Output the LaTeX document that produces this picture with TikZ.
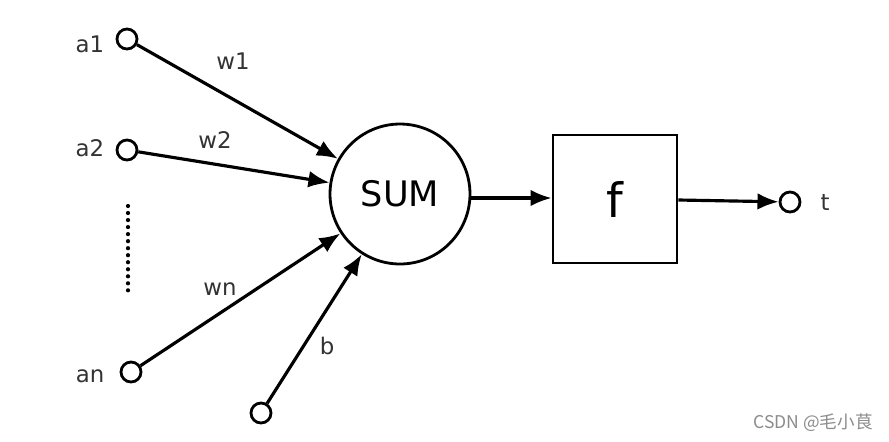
\documentclass[tikz,border=0pt]{standalone}
\usepackage{fontspec}
\setmainfont{DejaVu Sans}
\newfontfamily\cjk{Noto Sans CJK SC}
\usetikzlibrary{arrows.meta}
\begin{document}
\begin{tikzpicture}[x=0.02cm,y=-0.02cm,
  io/.style={circle,draw,line width=1.6pt,minimum size=0.4cm,inner sep=0pt},
  lbl/.style={font=\fontsize{13}{15}\selectfont,text=black!80,inner sep=0pt},
  conn/.style={line width=1.8pt,-{Latex[length=12pt,width=9.5pt]}}]
\useasboundingbox (0,0) rectangle (889,441);
\fill[white] (0,0) rectangle (889,441);
\node[io] (a1) at (127,39) {};
\node[io] (a2) at (127,150) {};
\node[io] (an) at (131,372) {};
\node[io] (b) at (261,413) {};
\node[io] (t) at (790,202) {};
\node[circle,draw,line width=1.6pt,minimum size=2.8cm,inner sep=0pt,font=\fontsize{20}{24}\selectfont] (sum) at (400,194) {SUM};
\node[draw,line width=1.6pt,minimum width=2.48cm,minimum height=2.56cm,inner sep=0pt,font=\fontsize{27}{30}\selectfont] (f) at (615,199) {f};
\node[lbl] (la1) at (90,44) {a1};
\node[lbl] (la2) at (90,148) {a2};
\node[lbl] (lan) at (90,376) {an};
\node[lbl] (lw1) at (233,61) {w1};
\node[lbl] (lw2) at (215,140) {w2};
\node[lbl] (lwn) at (220,289) {wn};
\node[lbl] (lb) at (327,346) {b};
\node[lbl] (lt) at (825,202) {t};
\coordinate (d1) at (128,206);
\coordinate (d2) at (128,295);
\draw[line width=2.4pt,line cap=round,dash pattern=on 0pt off 4pt] (d1) -- (d2);
\draw[conn] (a1) -- (sum);
\draw[conn] (a2) -- (sum);
\draw[conn] (an) -- (sum);
\draw[conn] (b) -- (sum);
\draw[conn] (sum.east |- 0,198) -- (f.west |- 0,198);
\draw[conn] (f.east |- 0,200) -- (t);
\node[font=\cjk\fontsize{10}{12}\selectfont,text=black!45,anchor=east,inner sep=0pt] (wm) at (873,423) {CSDN @毛小茛};
\end{tikzpicture}
\end{document}
